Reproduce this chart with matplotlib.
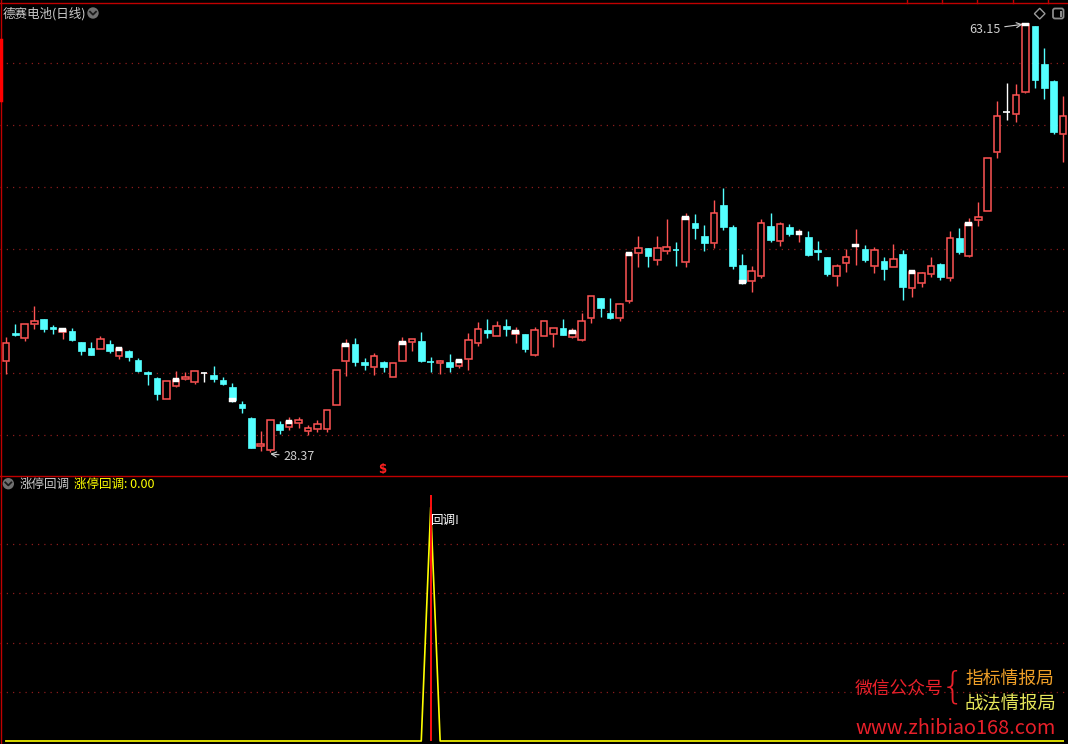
import numpy as np
import matplotlib.pyplot as plt
from matplotlib.patches import Rectangle, Circle, Polygon, FancyBboxPatch
from matplotlib.lines import Line2D
from matplotlib.transforms import IdentityTransform

plt.rcParams['font.family'] = ['Noto Sans CJK SC', 'DejaVu Sans']

# daily bars
opens = [35.79, 38.07, 37.66, 38.80, 39.18, 38.53, 38.13, 38.21, 37.32, 36.83,
         36.77, 37.15, 36.20, 36.58, 35.85, 34.88, 34.39, 32.70, 33.76, 34.31,
         34.09, 34.83, 34.63, 34.23, 33.66, 32.27, 31.13, 28.86, 28.53, 30.65,
         30.43, 30.73, 30.10, 30.24, 30.24, 32.22, 35.79, 37.15, 35.69, 35.31,
         35.69, 34.49, 35.79, 37.34, 37.40, 35.69, 35.63, 35.69, 35.39, 35.96,
         37.26, 38.29, 37.83, 38.62, 37.93, 37.97, 36.28, 37.83, 37.99, 38.45,
         37.74, 37.50, 39.29, 40.89, 39.67, 39.29, 40.67, 44.58, 44.96, 44.01,
         44.74, 44.85, 43.84, 46.99, 45.93, 45.39, 48.46, 46.67, 43.58, 42.30,
         42.71, 46.75, 45.55, 46.67, 46.06, 45.85, 44.80, 44.23, 42.71, 43.76,
         45.08, 44.88, 43.52, 43.90, 43.44, 44.47, 41.73, 42.14, 42.87, 43.66,
         42.54, 45.77, 44.33, 47.21, 47.99, 52.79, 56.02, 55.88, 57.67, 63.01,
         59.92, 58.54, 54.25]
highs = [37.72, 38.80, 38.77, 40.24, 39.18, 38.70, 38.37, 38.45, 37.32, 37.32,
         37.80, 37.48, 36.91, 36.66, 36.01, 34.96, 34.47, 34.14, 34.96, 34.88,
         34.96, 34.88, 35.36, 34.44, 33.98, 32.52, 31.22, 30.08, 30.97, 30.89,
         31.24, 31.24, 30.57, 30.97, 31.78, 35.04, 37.56, 37.64, 36.01, 36.42,
         35.77, 35.61, 37.72, 37.56, 38.13, 36.09, 35.85, 36.34, 35.93, 38.05,
         38.94, 39.18, 39.02, 39.18, 38.53, 37.97, 38.53, 39.02, 38.45, 39.18,
         38.45, 39.67, 41.06, 40.89, 40.89, 40.49, 44.63, 45.93, 44.96, 45.93,
         47.32, 45.45, 47.81, 47.72, 46.83, 48.86, 49.84, 46.83, 44.47, 43.50,
         47.32, 47.81, 47.07, 46.91, 46.50, 46.34, 45.53, 44.23, 43.66, 44.88,
         46.50, 45.20, 45.04, 44.23, 45.28, 44.80, 43.01, 43.01, 44.23, 43.74,
         46.34, 46.58, 47.40, 48.70, 52.25, 56.91, 58.38, 58.30, 63.15, 63.01,
         61.22, 58.62, 57.32]
lows = [34.71, 37.82, 37.42, 38.37, 38.15, 37.99, 37.58, 37.40, 36.28, 36.25,
        36.77, 36.44, 35.96, 35.79, 34.88, 33.82, 32.60, 32.70, 33.66, 34.23,
        33.90, 34.09, 34.06, 33.82, 32.44, 31.54, 28.69, 28.45, 28.37, 29.83,
        30.16, 30.32, 29.78, 30.00, 30.00, 32.22, 34.55, 35.39, 35.04, 34.63,
        34.88, 34.49, 35.79, 36.61, 35.69, 34.88, 34.71, 34.88, 35.20, 35.04,
        37.01, 37.64, 37.80, 37.83, 37.26, 36.53, 36.20, 37.83, 36.93, 37.90,
        37.66, 37.42, 38.88, 39.37, 39.21, 39.05, 40.51, 43.44, 43.44, 43.60,
        44.50, 43.52, 43.44, 45.71, 44.72, 44.98, 46.45, 43.28, 42.03, 41.40,
        42.54, 45.47, 45.15, 45.96, 45.47, 44.33, 44.01, 42.71, 41.89, 43.03,
        43.58, 43.82, 42.95, 42.36, 43.44, 40.73, 40.99, 41.81, 42.62, 42.38,
        42.30, 44.50, 44.25, 46.77, 47.99, 52.30, 55.37, 55.23, 57.59, 57.99,
        57.07, 54.22, 51.95]
closes = [37.23, 37.90, 38.77, 39.02, 38.37, 38.37, 38.29, 37.48, 36.58, 36.25,
          37.56, 36.58, 36.74, 36.09, 34.96, 34.71, 33.09, 34.14, 34.23, 34.47,
          34.96, 34.83, 34.31, 33.90, 32.60, 31.95, 28.69, 29.02, 30.97, 30.16,
          30.83, 30.95, 30.32, 30.65, 31.78, 35.04, 37.07, 35.69, 35.47, 36.18,
          35.31, 35.61, 37.23, 37.56, 35.77, 35.63, 35.77, 35.28, 35.77, 37.48,
          38.37, 38.07, 38.62, 38.37, 38.13, 36.74, 38.29, 39.02, 38.45, 37.90,
          38.13, 39.02, 41.06, 40.10, 39.29, 40.40, 44.47, 44.96, 44.33, 44.96,
          45.04, 44.74, 47.40, 46.61, 45.39, 47.81, 46.69, 43.52, 42.22, 43.09,
          46.99, 45.61, 46.91, 46.12, 46.18, 44.41, 44.66, 42.87, 43.50, 44.23,
          45.16, 43.98, 44.80, 43.28, 44.07, 41.81, 43.01, 42.93, 43.50, 42.62,
          45.77, 44.66, 46.91, 47.46, 52.25, 55.67, 56.02, 57.38, 63.15, 58.62,
          57.97, 54.39, 55.69]
marked = [6, 12, 18, 24, 30, 36, 42, 48, 54, 60, 66, 72, 78, 84, 90, 96, 102, 108]
grid_levels = [60.00, 54.96, 49.92, 44.88, 39.84, 34.80, 29.76]

# indicator panel
signal_idx = 45
signal_value = 95.0
stick_value = 100.0
ind_grid = [20, 40, 60, 80]

n = len(opens)
RED = '#ff5454'
CYAN = '#54ffff'
GRID = '#8c1c1c'
W, H = 1068, 744

fig = plt.figure(figsize=(W / 100, H / 100), dpi=100, facecolor='black')
ax = fig.add_axes([0, 269 / H, 1, 475 / H])
ax2 = fig.add_axes([0, 0, 1, 268 / H])
for a in (ax, ax2):
    a.set_facecolor('black')
    a.set_xlim(-0.625, 112.51)
    a.axis('off')
ax.set_ylim(26.50, 65.13)
ax2.set_ylim(-1.22, 107.72)

for g in grid_levels:
    ax.axhline(g, color=GRID, lw=0.9, linestyle=(0, (1, 4)), zorder=1)
for g in ind_grid:
    ax2.axhline(g, color=GRID, lw=0.9, linestyle=(0, (1, 4)), zorder=1)

bw = 0.7
for i in range(n):
    o, h, l, c = opens[i], highs[i], lows[i], closes[i]
    if c > o:
        col = RED
    elif c < o:
        col = CYAN
    else:
        col = 'white'
    top, bot = max(o, c), min(o, c)
    if top - bot < 0.12:
        ax.vlines(i, l, h, color=col, lw=1, zorder=2)
        ax.hlines((o + c) / 2, i - bw / 2, i + bw / 2, color=col, lw=1.2, zorder=3)
        continue
    if col == RED:
        ax.vlines(i, top, h, color=col, lw=1, zorder=2)
        ax.vlines(i, l, bot, color=col, lw=1, zorder=2)
        ax.add_patch(Rectangle((i - bw / 2, bot), bw, top - bot, facecolor='black',
                               edgecolor=col, lw=1.1, zorder=3))
    else:
        ax.vlines(i, l, h, color=col, lw=1, zorder=2)
        ax.add_patch(Rectangle((i - bw / 2, bot), bw, top - bot, facecolor=col,
                               edgecolor=col, lw=0.5, zorder=3))

for i in marked:
    ax.add_patch(Rectangle((i - bw / 2, closes[i] - 0.15), bw, 0.30,
                           facecolor='white', edgecolor='white', lw=0.3, zorder=4))

# high / low labels
hi = int(np.argmax(highs))
lo = int(np.argmin(lows))
ax.annotate(f'{highs[hi]:.2f}', xy=(hi - 0.3, highs[hi]), xytext=(-22, -5),
            textcoords='offset pixels', ha='right', va='center', color='#cfcfcf',
            fontsize=9, arrowprops=dict(arrowstyle='->', color='#cfcfcf', lw=0.8,
                                        shrinkA=1, shrinkB=0))
ax.annotate(f'{lows[lo]:.2f}', xy=(lo, lows[lo] - 0.15), xytext=(13, -3),
            textcoords='offset pixels', ha='left', va='center', color='#cfcfcf',
            fontsize=9, arrowprops=dict(arrowstyle='->', color='#cfcfcf', lw=0.8,
                                        shrinkA=1, shrinkB=0))

# indicator lines
x = np.arange(n)
zt = np.zeros(n)
zt[signal_idx] = signal_value
ax2.plot(x, zt, color='#ffff00', lw=1.2, zorder=3)
ax2.vlines(signal_idx, 0, stick_value, color='#ff1010', lw=1.4, zorder=4)
ax2.text(signal_idx + 0.05, 89.5, '回调!', color='white', fontsize=9,
         ha='left', va='center', zorder=5)


def P(px, py):
    return px / W, 1 - py / H


def line(xs, ys, **kw):
    fig.add_artist(Line2D([v / W for v in xs], [1 - v / H for v in ys], **kw))


# frame lines
line([0, W], [3, 3], color='#c00000', lw=1)
line([0, W], [475.5, 475.5], color='#c00000', lw=1)
line([1, 1], [0, H], color='#c00000', lw=1)
line([1, 1], [40, 100], color='#ff0000', lw=2.5)
for tx in [907.3, 942.3, 977.3, 1012.7, 1047.7]:
    line([tx, tx], [0, 3], color='#c00000', lw=1)

# icons
idt = IdentityTransform()
for cx, cy in [(93, 13), (8.3, 483.7)]:
    fig.add_artist(Circle((cx, H - cy), 5.7, transform=idt, facecolor='#707070',
                          edgecolor='none'))
    fig.add_artist(Line2D([cx - 3, cx, cx + 3], [H - cy + 1.3, H - cy - 1.7, H - cy + 1.3],
                          transform=idt, color='#1a1a1a', lw=1.3))
fig.add_artist(Polygon([(1039.7, H - 8.3), (1045, H - 13.7), (1039.7, H - 19),
                        (1034.4, H - 13.7)], closed=True, transform=idt,
                       facecolor='none', edgecolor='#9a9a9a', lw=1))
fig.add_artist(FancyBboxPatch((1053, H - 18.5), 10.5, 10, boxstyle='round,pad=0,rounding_size=2',
                              transform=idt, facecolor='none', edgecolor='#8a8a8a', lw=1.3))
fig.add_artist(Rectangle((1059.5, H - 16.5), 2.5, 6, transform=idt,
                         facecolor='#8a8a8a', edgecolor='none'))

# texts
fig.text(*P(2.5, 13.5), '德赛电池(日线)', color='#cccccc', fontsize=9, ha='left', va='center')
fig.text(*P(20, 484.3), '涨停回调', color='#cccccc', fontsize=9, ha='left', va='center')
fig.text(*P(74, 484.3), f'涨停回调: {zt[-1]:.2f}', color='#ffff00', fontsize=9,
         ha='left', va='center')
fig.text(*P(381.7, 469.5), '$', color='#ff2020', fontsize=8.5, fontweight='bold',
         ha='center', va='center', family='DejaVu Sans')

# watermark
fig.text(*P(855, 689), '微信公众号', color='#e8202a', fontsize=12.8, fontweight='medium',
         ha='left', va='center')
fig.text(*P(953, 687), '{', color='#e8202a', fontsize=27, ha='center', va='center',
         family='DejaVu Sans', fontweight='light')
fig.text(*P(965, 679), '指标情报局', color='#f0a028', fontsize=12.8, fontweight='medium',
         ha='left', va='center')
fig.text(*P(965, 704), '战法情报局', color='#e6e65a', fontsize=13.2, fontweight='medium',
         ha='left', va='center')
fig.text(*P(855, 728), 'www.zhibiao168.com', color='#e8202a', fontsize=14.3,
         ha='left', va='center')

fig.savefig('out.png', dpi=100, facecolor='black')
